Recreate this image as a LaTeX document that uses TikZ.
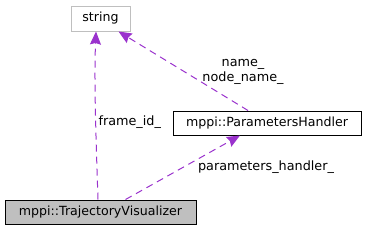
\documentclass[tikz,border=0pt]{standalone}
\usepackage{fontspec}
\setmainfont{DejaVu Sans}
\usetikzlibrary{arrows.meta, positioning}
\definecolor{edgecol}{HTML}{9A32CD}
\definecolor{boxgray}{HTML}{BFBFBF}

\begin{document}
\begin{tikzpicture}[
    x=1pt, y=1pt,
    cls/.style={rectangle, draw, line width=1pt, minimum height=24pt, inner sep=0pt, align=center, font=\fontsize{12.6}{14}\selectfont},
    arrow/.style={-{Stealth[length=13pt, width=11pt, inset=1.5pt]}, dash pattern=on 7pt off 5pt, draw=edgecol, line width=1pt},
    label/.style={font=\fontsize{12.8}{14.5}\selectfont, align=center},
]
\useasboundingbox (0,0) rectangle (367,-231);

% class boxes
\node[cls, draw=boxgray, minimum width=59pt, minimum height=25pt] (string) at (100.5,-18.5) {string};
\node[cls, fill=boxgray, minimum width=191pt] (traj) at (100.5,-212) {mppi::TrajectoryVisualizer};
\node[cls, minimum width=188pt] (params) at (267,-123) {mppi::ParametersHandler};

% member edges
\draw[arrow] ([xshift=-2.5pt]traj.north) .. controls (96,-140) and (94,-80) .. ([xshift=-4.5pt]string.south);
\draw[arrow] ([xshift=-19pt]params.north) -- ([xshift=18pt]string.south);
\draw[arrow] ([xshift=25pt]traj.north) -- ([xshift=-27pt]params.south);

% edge labels
\node[label, anchor=west] (lfid) at (95,-122) {frame\_id\_};
\node[label] (lname) at (243,-72) {name\_\\node\_name\_};
\node[label] (lpar) at (266,-167) {parameters\_handler\_};

\end{tikzpicture}
\end{document}
